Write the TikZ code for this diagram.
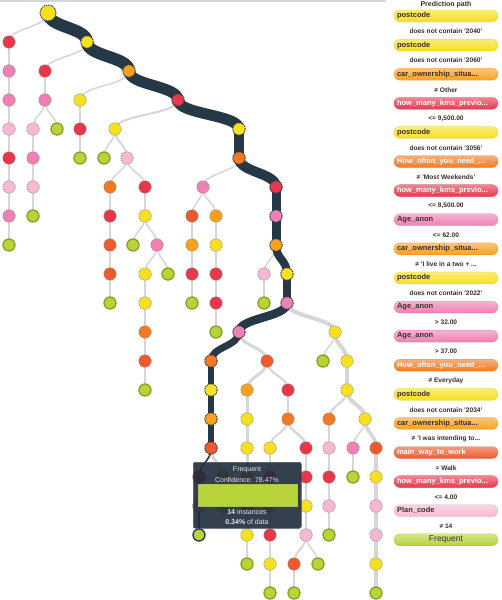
\documentclass[tikz,border=0pt]{standalone}
\usepackage{fontspec}
\setmainfont{Liberation Sans}
\usetikzlibrary{calc}
\pgfdeclarelayer{bg}
\pgfdeclarelayer{edges}
\pgfdeclarelayer{band}
\pgfsetlayers{bg,edges,band,main}
\definecolor{cY}{HTML}{F6E01F}
\definecolor{cA}{HTML}{F8A01F}
\definecolor{cO}{HTML}{F27A24}
\definecolor{cOR}{HTML}{EE5A2B}
\definecolor{cR}{HTML}{E8364B}
\definecolor{cP}{HTML}{F07FB3}
\definecolor{cLP}{HTML}{F8B8D3}
\definecolor{cG}{HTML}{B7D43B}
\definecolor{cGD}{HTML}{84A41C}
\definecolor{cPath}{HTML}{263746}
\definecolor{cEdge}{HTML}{D6D6D6}
\definecolor{cTxt}{HTML}{3B2D2D}
\definecolor{cTip}{HTML}{1F2C3B}
\definecolor{cTipB}{HTML}{4A5A6A}
\tikzset{
 dot/.style={circle, inner sep=0pt, minimum size=12.5pt, draw=black!45, line width=0.6pt, dash pattern=on 1pt off 0.8pt},
 nY/.style={dot, fill=cY}, nA/.style={dot, fill=cA}, nO/.style={dot, fill=cO},
 nOR/.style={dot, fill=cOR}, nR/.style={dot, fill=cR}, nP/.style={dot, fill=cP},
 nLP/.style={dot, fill=cLP},
 nG/.style={circle, inner sep=0pt, minimum size=12pt, fill=cG, draw=cGD, line width=1.3pt},
 onp/.style={draw=cPath, line width=0.9pt, dash pattern=on 1.3pt off 0.9pt},
 rootn/.style={minimum size=16pt},
 gedge/.style={draw=cEdge, line cap=round},
 pedge/.style={draw=cPath, line cap=round},
 pillst/.style={rectangle, rounded corners=6pt, minimum width=104pt, minimum height=12pt, inner sep=0pt, text width=98pt, align=left, font=\bfseries\fontsize{7.5}{8}\selectfont, draw opacity=0.5, line width=0.3pt},
 lblst/.style={inner sep=0pt, text=cTxt, font=\bfseries\fontsize{6.6}{7}\selectfont},
 tiptxt/.style={inner sep=0pt, text=white!90!black, font=\fontsize{7}{8}\selectfont},
}
\newcommand\nd[4]{\node[#2] (#1) at (#3,{13+29*#4}) {};}
\newcommand\gedg[3][1.5]{\begin{pgfonlayer}{edges}\draw[gedge,line width=#1pt] (#2.center) .. controls ($(#2.center)!0.5!(#2.center|-#3.center)$) and ($(#3.center)!0.5!(#3.center|-#2.center)$) .. (#3.center);\end{pgfonlayer}}
\newcommand\pedg[3][8]{\begin{pgfonlayer}{band}\draw[pedge,line width=#1pt] (#2.center) .. controls ($(#2.center)!0.5!(#2.center|-#3.center)$) and ($(#3.center)!0.5!(#3.center|-#2.center)$) .. (#3.center);\end{pgfonlayer}}
\newcommand\pill[4]{\node[pillst, top color=#2!60!white, bottom color=#2, draw=#2!80!black, text=#3] (pl#1) at (446,{16+29.1*#1}) {#4};}
\newcommand\lbl[2]{\node[lblst] (lb#1) at (446,{16+29.1*(#1-1)+15.5}) {#2};}
\begin{document}
\begin{tikzpicture}[x=1pt,y=-1pt]
\useasboundingbox (0,0) rectangle (501,600);
\begin{pgfonlayer}{bg}
\fill[white] (0,0) rectangle (501,600);
\draw[cEdge, line width=1.5pt] (0,0.75) -- (386,0.75);
\end{pgfonlayer}
% nodes
\nd{r0}{nY,onp,rootn}{48}{0}
\nd{a1}{nR}{9}{1} \nd{p1}{nY,onp}{87}{1}
\nd{a2}{nP}{9}{2} \nd{b2}{nR}{45}{2} \nd{p2}{nA,onp}{129}{2}
\nd{a3}{nP}{9}{3} \nd{b3}{nP}{45}{3} \nd{c3}{nY}{80}{3} \nd{p3}{nR,onp}{178}{3}
\nd{a4}{nLP}{9}{4} \nd{b4}{nLP}{33}{4} \nd{b4g}{nG}{57}{4} \nd{c4}{nR}{80}{4} \nd{d4}{nY}{115}{4} \nd{p4}{nY,onp}{239}{4}
\nd{a5}{nR}{9}{5} \nd{b5}{nP}{33}{5} \nd{c5}{nG}{80}{5} \nd{d5g}{nG}{104}{5} \nd{d5}{nLP}{127}{5} \nd{p5}{nO,onp}{239}{5}
\nd{a6}{nLP}{9}{6} \nd{b6}{nLP}{33}{6} \nd{e6}{nO}{110}{6} \nd{f6}{nR}{145}{6} \nd{g6}{nP}{203}{6} \nd{p6}{nR,onp}{276}{6}
\nd{a7}{nP}{9}{7} \nd{b7}{nG}{33}{7} \nd{e7}{nR}{110}{7} \nd{f7}{nY}{145}{7} \nd{g7}{nOR}{192}{7} \nd{h7}{nA}{216}{7} \nd{p7}{nP,onp}{276}{7}
\nd{a8}{nG}{9}{8} \nd{e8}{nOR}{110}{8} \nd{f8g}{nG}{133}{8} \nd{f8}{nP}{157}{8} \nd{g8}{nA}{192}{8} \nd{h8}{nY}{216}{8} \nd{p8}{nA,onp}{276}{8}
\nd{e9}{nOR}{110}{9} \nd{f9}{nY}{145}{9} \nd{f9g}{nG}{168}{9} \nd{g9}{nR}{192}{9} \nd{h9}{nR}{216}{9} \nd{i9}{nLP}{264}{9} \nd{p9}{nY,onp}{287}{9}
\nd{e10}{nG}{110}{10} \nd{f10}{nY}{145}{10} \nd{g10}{nG}{192}{10} \nd{h10}{nR}{216}{10} \nd{i10}{nG}{264}{10} \nd{p10}{nP,onp}{287}{10}
\nd{f11}{nO}{145}{11} \nd{h11}{nG}{216}{11} \nd{p11}{nP,onp}{239}{11} \nd{j11}{nY}{335}{11}
\nd{f12}{nOR}{145}{12} \nd{p12}{nO,onp}{211}{12} \nd{k12}{nOR}{267}{12} \nd{j12g}{nG}{323}{12} \nd{j12}{nY}{347}{12}
\nd{f13}{nG}{145}{13} \nd{p13}{nY,onp}{211}{13} \nd{k13}{nA}{247}{13} \nd{m13}{nR}{288}{13} \nd{j13}{nY}{347}{13}
\nd{p14}{nA,onp}{211}{14} \nd{k14}{nY}{247}{14} \nd{m14}{nO}{288}{14} \nd{n14}{nO}{329}{14} \nd{j14}{nY}{365}{14}
\nd{p15}{nOR,onp}{211}{15} \nd{k15}{nY}{247}{15} \nd{m15}{nY}{270}{15} \nd{q15}{nR}{306}{15} \nd{n15}{nLP}{329}{15} \nd{j15a}{nP}{353}{15} \nd{j15}{nOR}{376}{15}
\nd{p16}{nR,onp}{199}{16} \nd{x16}{nA}{223}{16} \nd{k16}{nO}{247}{16} \nd{m16}{nR}{270}{16} \nd{q16}{nR}{306}{16} \nd{n16}{nR}{329}{16} \nd{j16g}{nG}{353}{16} \nd{j16}{nY}{376}{16}
\nd{p17}{nLP,onp}{199}{17} \nd{x17}{nG}{223}{17} \nd{k17}{nR}{247}{17} \nd{m17}{nA}{270}{17} \nd{q17}{nY}{306}{17} \nd{n17}{nLP}{329}{17} \nd{j17}{nLP}{376}{17}
\nd{p18}{nG,draw=cPath}{199}{18} \nd{k18}{nY}{247}{18} \nd{m18}{nR}{270}{18} \nd{q18}{nLP}{306}{18} \nd{n18}{nG}{329}{18} \nd{j18}{nLP}{376}{18}
\nd{k19}{nG}{247}{19} \nd{m19}{nY}{270}{19} \nd{q19a}{nOR}{294}{19} \nd{q19g}{nG}{318}{19} \nd{j19}{nY}{376}{19}
\nd{m20}{nG}{270}{20} \nd{q20}{nG}{294}{20} \nd{j20}{nG}{376}{20}
% gray edges
\gedg{r0}{a1}\gedg{a1}{a2}\gedg{a2}{a3}\gedg{a3}{a4}\gedg{a4}{a5}\gedg{a5}{a6}\gedg{a6}{a7}\gedg{a7}{a8}
\gedg{p1}{b2}\gedg{b2}{b3}\gedg{b3}{b4}\gedg{b3}{b4g}\gedg{b4}{b5}\gedg{b5}{b6}\gedg{b6}{b7}
\gedg{p2}{c3}\gedg{c3}{c4}\gedg{c4}{c5}
\gedg[2]{p3}{d4}\gedg{d4}{d5g}\gedg[2]{d4}{d5}
\gedg{d5}{e6}\gedg{d5}{f6}
\gedg{e6}{e7}\gedg{e7}{e8}\gedg{e8}{e9}\gedg{e9}{e10}
\gedg{f6}{f7}\gedg{f7}{f8g}\gedg{f7}{f8}\gedg{f8}{f9}\gedg{f8}{f9g}\gedg{f9}{f10}\gedg{f10}{f11}\gedg{f11}{f12}\gedg{f12}{f13}
\gedg{p5}{g6}\gedg{g6}{g7}\gedg{g6}{h7}\gedg{g7}{g8}\gedg{g8}{g9}\gedg{g9}{g10}
\gedg{h7}{h8}\gedg{h8}{h9}\gedg{h9}{h10}\gedg{h10}{h11}
\gedg{p8}{i9}\gedg{i9}{i10}
\gedg[4]{p10}{j11}\gedg{j11}{j12g}\gedg[4]{j11}{j12}\gedg[4]{j12}{j13}
\gedg[2]{j13}{n14}\gedg[4]{j13}{j14}\gedg[2]{n14}{n15}\gedg[2]{n15}{n16}\gedg[2]{n16}{n17}\gedg[2]{n17}{n18}
\gedg{j14}{j15a}\gedg[3.5]{j14}{j15}\gedg{j15a}{j16g}\gedg[3.5]{j15}{j16}\gedg[3.5]{j16}{j17}\gedg[3.5]{j17}{j18}\gedg[3.5]{j18}{j19}\gedg[3.5]{j19}{j20}
\gedg[3]{p11}{k12}\gedg[3]{k12}{k13}\gedg[2]{k12}{m13}\gedg[3]{k13}{k14}\gedg[3]{k14}{k15}\gedg[3]{k15}{k16}\gedg[3]{k16}{k17}\gedg[3]{k17}{k18}\gedg[2.5]{k18}{k19}
\gedg[2.5]{m13}{m14}\gedg[2]{m14}{m15}\gedg[2.5]{m14}{q15}\gedg[2]{m15}{m16}\gedg[2]{m16}{m17}\gedg[2]{m17}{m18}\gedg[2]{m18}{m19}\gedg[2]{m19}{m20}
\gedg[2.5]{q15}{q16}\gedg[2.5]{q16}{q17}\gedg[2.5]{q17}{q18}\gedg[2]{q18}{q19a}\gedg{q18}{q19g}\gedg[2]{q19a}{q20}
\gedg[3]{p15}{x16}\gedg[2.5]{x16}{x17}
% prediction path
\pedg[12]{r0}{p1}\pedg[12]{p1}{p2}\pedg[11]{p2}{p3}\pedg[11]{p3}{p4}\pedg[10]{p4}{p5}\pedg[10]{p5}{p6}
\pedg[9]{p6}{p7}\pedg[9]{p7}{p8}\pedg[8]{p8}{p9}\pedg[8]{p9}{p10}\pedg[8.5]{p10}{p11}\pedg[7]{p11}{p12}
\pedg[6.5]{p12}{p13}\pedg[6]{p13}{p14}\pedg[6]{p14}{p15}\pedg[1.6]{p15}{p16}\pedg[1.5]{p16}{p17}\pedg[1.5]{p17}{p18}
% tooltip
\node[rectangle, rounded corners=2pt, fill=cTip, fill opacity=0.9, draw=cTipB, line width=0.5pt, anchor=north west, minimum width=108pt, minimum height=66pt, inner sep=0pt] (tip) at (193,462) {};
\node[tiptxt] (tipT) at (247,469.5) {Frequent};
\node[tiptxt] (tipC) at (247,479.5) {Confidence: 78.47\%};
\node[rectangle, anchor=north west, minimum width=99pt, minimum height=22pt, inner sep=0pt, fill=cG, draw=cGD!70, line width=0.4pt] (bar) at (198,484) {};
\node[tiptxt] (tipI) at (247,512) {\textbf{14} instances};
\node[tiptxt] (tipD) at (247,522) {\textbf{0.34\%} of data};
% legend
\node[lblst, font=\bfseries\fontsize{7}{8}\selectfont] (title) at (446,4.5) {Prediction path};
\pill{0}{cY}{cTxt}{postcode}
\lbl{1}{does not contain '2040'}
\pill{1}{cY}{cTxt}{postcode}
\lbl{2}{does not contain '2060'}
\pill{2}{cA}{cTxt}{car\_ownership\_situa...}
\lbl{3}{≠ Other}
\pill{3}{cR}{white}{how\_many\_kms\_previo...}
\lbl{4}{<= 9,500.00}
\pill{4}{cY}{cTxt}{postcode}
\lbl{5}{does not contain '3056'}
\pill{5}{cO}{white}{How\_often\_you\_need\_...}
\lbl{6}{≠ 'Most Weekends'}
\pill{6}{cR}{white}{how\_many\_kms\_previo...}
\lbl{7}{<= 8,500.00}
\pill{7}{cP}{cTxt}{Age\_anon}
\lbl{8}{<= 62.00}
\pill{8}{cA}{cTxt}{car\_ownership\_situa...}
\lbl{9}{≠ 'I live in a two + ...}
\pill{9}{cY}{cTxt}{postcode}
\lbl{10}{does not contain '2022'}
\pill{10}{cP}{cTxt}{Age\_anon}
\lbl{11}{> 32.00}
\pill{11}{cP}{cTxt}{Age\_anon}
\lbl{12}{> 37.00}
\pill{12}{cO}{white}{How\_often\_you\_need\_...}
\lbl{13}{≠ Everyday}
\pill{13}{cY}{cTxt}{postcode}
\lbl{14}{does not contain '2034'}
\pill{14}{cA}{cTxt}{car\_ownership\_situa...}
\lbl{15}{≠ 'I was intending to...}
\pill{15}{cOR}{white}{main\_way\_to\_work}
\lbl{16}{= Walk}
\pill{16}{cR}{white}{how\_many\_kms\_previo...}
\lbl{17}{<= 4.00}
\pill{17}{cLP}{cTxt}{Plan\_code}
\lbl{18}{≠ 14}
\node[pillst, top color=cG!60!white, bottom color=cG, draw=cGD, text=black!80, align=center, font=\fontsize{8.5}{9}\selectfont] (pl18) at (446,{16+29.1*18}) {Frequent};
\end{tikzpicture}
\end{document}
